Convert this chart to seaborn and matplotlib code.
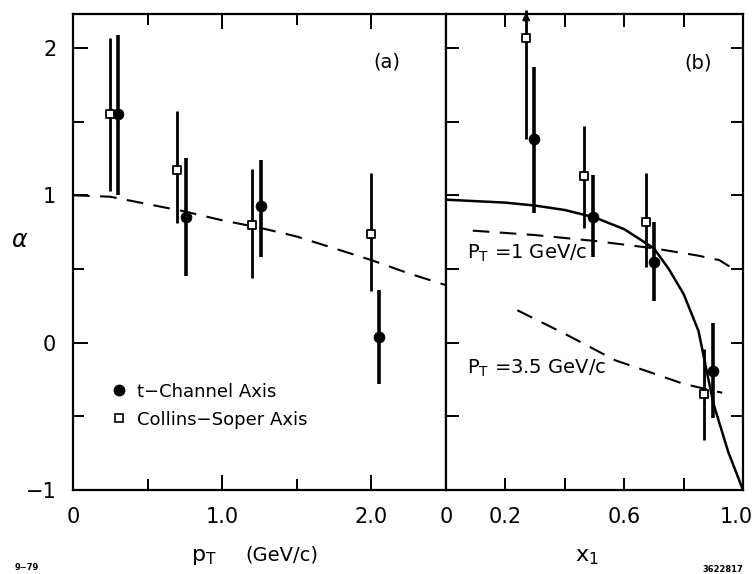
import numpy as np
import pandas as pd
import matplotlib
matplotlib.use("Agg")
import matplotlib.pyplot as plt
import matplotlib.transforms as mtransforms
import seaborn as sns

# ---- panel (a): alpha vs p_T ----
pt_t = [0.30, 0.76, 1.26, 2.05]
alpha_pt_t = [1.55, 0.85, 0.93, 0.04]
lo_pt_t = [1.00, 0.45, 0.58, -0.28]
hi_pt_t = [2.09, 1.25, 1.24, 0.36]

pt_cs = [0.25, 0.70, 1.20, 2.00]
alpha_pt_cs = [1.55, 1.17, 0.80, 0.74]
lo_pt_cs = [1.03, 0.81, 0.44, 0.35]
hi_pt_cs = [2.07, 1.57, 1.18, 1.15]

curve_pt = [0, 0.25, 0.5, 0.75, 1.0, 1.25, 1.5, 1.75, 2.0, 2.25, 2.5]
curve_alpha_pt = [1.0, 0.99, 0.94, 0.89, 0.83, 0.78, 0.72, 0.64, 0.56, 0.47, 0.39]

# ---- panel (b): alpha vs x1 ----
x1_t = [0.296, 0.495, 0.70, 0.90]
alpha_x1_t = [1.38, 0.85, 0.55, -0.19]
lo_x1_t = [0.88, 0.58, 0.28, -0.51]
hi_x1_t = [1.87, 1.14, 0.82, 0.13]

x1_cs = [0.27, 0.465, 0.675, 0.87]
alpha_x1_cs = [2.07, 1.13, 0.82, -0.35]
lo_x1_cs = [1.38, 0.78, 0.51, -0.66]
hi_x1_cs = [2.26, 1.47, 1.15, -0.04]   # first one runs off the top (arrow)

curve_x1 = [0, 0.1, 0.2, 0.3, 0.4, 0.5, 0.6, 0.7, 0.75, 0.8, 0.85, 0.9, 0.95, 1.0]
curve_alpha_x1 = [0.97, 0.96, 0.95, 0.93, 0.90, 0.85, 0.77, 0.64, 0.50, 0.33, 0.08, -0.41, -0.74, -1.0]

pt1_x1 = [0.09, 0.3, 0.5, 0.7, 0.85, 0.92, 0.96]
pt1_alpha = [0.76, 0.73, 0.69, 0.64, 0.59, 0.56, 0.51]

pt35_x1 = [0.24, 0.4, 0.57, 0.7, 0.8, 0.93]
pt35_alpha = [0.22, 0.06, -0.12, -0.21, -0.28, -0.34]

sns.set_style("ticks")
plt.rcParams['font.family'] = ['DejaVu Sans']
plt.rcParams.update({
    'axes.linewidth': 1.6,
    'axes.edgecolor': 'black',
    'text.color': 'black',
    'axes.labelcolor': 'black',
    'xtick.color': 'black',
    'ytick.color': 'black',
})

fig = plt.figure(figsize=(7.53, 5.74), dpi=100)
W, H = 753, 574
ax1 = fig.add_axes([73 / W, 1 - 490 / H, 373 / W, 476 / H])
ax2 = fig.add_axes([446 / W, 1 - 490 / H, 297 / W, 476 / H], sharey=ax1)

dash = (0, (8, 5))


def draw_points(ax, x, y, lo, hi, marker):
    # error bars first, marker on top
    if marker == 'o':
        ax.vlines(x, lo, hi, color='black', lw=2.6, zorder=2)
        sns.scatterplot(x=x, y=y, ax=ax, marker='o', s=60, color='black',
                        edgecolor='black', zorder=3, legend=False)
    else:
        ax.vlines(x, lo, hi, color='black', lw=2.0, zorder=2)
        sns.scatterplot(x=x, y=y, ax=ax, marker='s', s=40, color='white',
                        edgecolor='black', linewidth=1.3, zorder=4, legend=False)


# panel (a)
sns.lineplot(x=curve_pt, y=curve_alpha_pt, ax=ax1, color='black', lw=1.5,
             linestyle=dash)
draw_points(ax1, pt_t, alpha_pt_t, lo_pt_t, hi_pt_t, 'o')
draw_points(ax1, pt_cs, alpha_pt_cs, lo_pt_cs, hi_pt_cs, 's')

# panel (b)
sns.lineplot(x=curve_x1, y=curve_alpha_x1, ax=ax2, color='black', lw=1.8)
sns.lineplot(x=pt1_x1, y=pt1_alpha, ax=ax2, color='black', lw=1.5, linestyle=dash)
sns.lineplot(x=pt35_x1, y=pt35_alpha, ax=ax2, color='black', lw=1.5, linestyle=dash)
draw_points(ax2, x1_t, alpha_x1_t, lo_x1_t, hi_x1_t, 'o')
draw_points(ax2, x1_cs, alpha_x1_cs, lo_x1_cs, hi_x1_cs, 's')
ax2.annotate('', xy=(x1_cs[0], hi_x1_cs[0]), xytext=(x1_cs[0], hi_x1_cs[0] - 0.1),
             arrowprops=dict(arrowstyle='-|>', color='black', lw=1.5,
                             mutation_scale=10),
             annotation_clip=False)
for c in ax2.collections:
    c.set_clip_on(False)

# axes limits and ticks
ax1.set_ylim(-1, 2.23)
ax1.set_xlim(0, 2.5)
ax2.set_xlim(0, 1.0)

ax1.set_yticks([-1, 0, 1, 2])
ax1.set_yticklabels(['\u22121', '0', '1', '2'])
ax1.set_yticks([-0.5, 0.5, 1.5], minor=True)
ax1.set_xticks([0, 1, 2])
ax1.set_xticklabels(['0', '1.0', '2.0'])
ax1.set_xticks([0.5, 1.5], minor=True)

ax2.set_xticks([0, 0.2, 0.6, 1.0])
ax2.set_xticklabels(['0', '0.2', '0.6', '1.0'])
ax2.set_xticks([0.4, 0.8], minor=True)

ax1.tick_params(which='both', direction='in', top=True, right=False,
                width=1.4, labelsize=15, pad=12)
ax1.tick_params(which='major', length=11)
ax1.tick_params(which='minor', length=8)
ax2.tick_params(which='both', direction='in', top=True, right=True, left=True,
                width=1.4, labelsize=15, pad=12, labelleft=False)
ax2.tick_params(which='major', length=9)
ax2.tick_params(which='minor', length=9)

# last label sits on the figure edge: nudge it left a little
last = ax2.get_xticklabels()[-1]
last.set_transform(last.get_transform() +
                   mtransforms.ScaledTranslation(-7 / 100, 0, fig.dpi_scale_trans))

for ax in (ax1, ax2):
    ax.set_xlabel('')
    ax.set_ylabel('')
    for s in ax.spines.values():
        s.set_visible(True)
        s.set_linewidth(1.6)

# labels
ax1.set_ylabel('\u03b1', rotation=0, fontsize=17, fontstyle='italic')
ax1.yaxis.set_label_coords(-0.145, 0.50)
fig.text(204 / W, 1 - 557 / H, 'p$_\\mathrm{T}$', fontsize=16, ha='center', va='center')
fig.text(282 / W, 1 - 555 / H, '(GeV/c)', fontsize=14, ha='center', va='center')
fig.text(587 / W, 1 - 557 / H, 'x$_\\mathrm{1}$', fontsize=16, ha='center', va='center')

ax1.text(0.842, 0.899, '(a)', transform=ax1.transAxes, fontsize=14,
         ha='center', va='center')
ax2.text(0.848, 0.897, '(b)', transform=ax2.transAxes, fontsize=14,
         ha='center', va='center')
ax2.text(0.07, 0.498, 'P$_\\mathrm{T}$ =1 GeV/c', transform=ax2.transAxes,
         fontsize=14, ha='left', va='center')
ax2.text(0.07, 0.256, 'P$_\\mathrm{T}$ =3.5 GeV/c', transform=ax2.transAxes,
         fontsize=14, ha='left', va='center')

# legend
h_t = plt.Line2D([], [], marker='o', color='black', ls='', markersize=7.5)
h_cs = plt.Line2D([], [], marker='s', mfc='white', mec='black', mew=1.2,
                  ls='', markersize=5.5)
ax1.legend([h_t, h_cs], ['t\u2212Channel Axis', 'Collins\u2212Soper Axis'],
           loc='center left', bbox_to_anchor=(0.08, 0.177), frameon=False,
           fontsize=13, handlelength=0.8, handletextpad=0.6, labelspacing=0.55,
           borderpad=0)

fig.text(15 / W, 1 - 567 / H, '9\u221279', fontsize=6, fontweight='bold',
         ha='left', va='center')
fig.text(723 / W, 1 - 570 / H, '3622817', fontsize=6, fontweight='bold',
         ha='center', va='center')

fig.savefig('out.png', dpi=100)
